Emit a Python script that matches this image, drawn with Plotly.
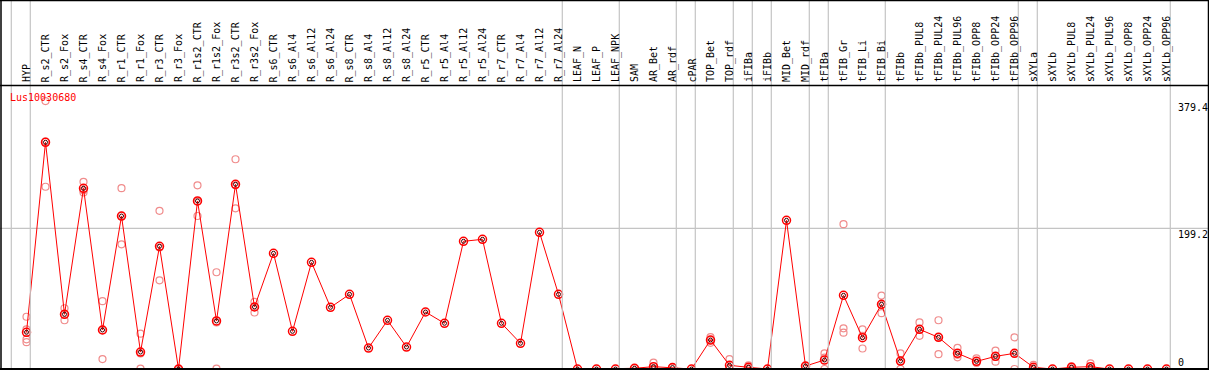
import plotly.graph_objects as go

gene_name = "Lus10030680"

categories = [
    "HYP", "R_s2_CTR", "R_s2_Fox", "R_s4_CTR", "R_s4_Fox", "R_r1_CTR", "R_r1_Fox",
    "R_r3_CTR", "R_r3_Fox", "R_r1s2_CTR", "R_r1s2_Fox", "R_r3s2_CTR", "R_r3s2_Fox",
    "R_s6_CTR", "R_s6_Al4", "R_s6_Al12", "R_s6_Al24", "R_s8_CTR", "R_s8_Al4",
    "R_s8_Al12", "R_s8_Al24", "R_r5_CTR", "R_r5_Al4", "R_r5_Al12", "R_r5_Al24",
    "R_r7_CTR", "R_r7_Al4", "R_r7_Al12", "R_r7_Al24", "LEAF_N", "LEAF_P", "LEAF_NPK",
    "SAM", "AR_Bet", "AR_rdf", "cPAR", "TOP_Bet", "TOP_rdf", "iFIBa", "iFIBb",
    "MID_Bet", "MID_rdf", "tFIBa", "tFIB_Gr", "tFIB_Li", "tFIB_Bi", "tFIBb",
    "tFIBb_PUL8", "tFIBb_PUL24", "tFIBb_PUL96", "tFIBb_OPP8", "tFIBb_OPP24",
    "tFIBb_OPP96", "sXYLa", "sXYLb", "sXYLb_PUL8", "sXYLb_PUL24", "sXYLb_PUL96",
    "sXYLb_OPP8", "sXYLb_OPP24", "sXYLb_OPP96",
]

mean_values = [
    52, 321, 77.4, 255.8, 55.2, 216.6, 24, 173.7, 0, 237.9, 68, 261.5, 87.8,
    163.8, 53.3, 151, 87.3, 105.7, 29.7, 68.9, 31.1, 80.7, 64.7, 180.8, 183.6,
    64.7, 36.4, 193.5, 105.7, 0, 0, 0, 1, 3.3, 2, 0, 41, 5.2, 2.4, 0,
    210.5, 4.2, 12.7, 104.3, 44.3, 91.6, 11.3, 56.2, 44.8, 22.2, 10.8, 17.9,
    22.2, 2.4, 0, 2.4, 3.3, 0, 0, 0, 0,
]

replicate_values = [
    [74, 56, 42, 38], [379.4, 258, 322], [86, 69, 77], [265, 250, 253],
    [96, 14, 55], [256, 176.5, 217], [50, 0.4, 22], [224, 125.5, 172],
    [0, 0, 0], [260, 216.6, 237], [137, 0.4, 66], [297, 227.5, 260],
    [95, 80, 88],
    [], [], [], [], [], [], [], [], [], [], [], [], [], [], [], [],
    [], [], [],
    [1], [9, 1, 0], [2], [], [45, 41, 37], [14, 1, 1], [5, 1, 1], [],
    [], [4], [22, 0, 16], [205, 57.6, 51.4], [56, 29, 47], [104, 79, 91],
    [22, 0, 11], [66, 47, 56], [69, 21, 45], [30, 16.5, 20], [15, 9, 9],
    [26, 10.4, 17], [44.8, 0, 22], [5.7, 1, 0.5], [], [3.8, 1], [8, 1, 1],
    [], [], [], [],
]

group_sizes = [1, 28, 3, 3, 1, 2, 1, 1, 2, 1, 3, 7, 1, 7]

y_label_values = [379.4, 199.2, 0]

W, H = 1209, 370
x_pos = list(range(1, len(categories) + 1))

rep_x, rep_y = [], []
for xi, reps in zip(x_pos, replicate_values):
    for r in reps:
        rep_x.append(xi)
        rep_y.append(r)

fig = go.Figure()
fig.add_trace(go.Scatter(
    x=rep_x, y=rep_y, mode="markers",
    marker=dict(symbol="circle-open", size=7, color="rgb(240,140,140)",
                line=dict(width=1.2, color="rgb(240,140,140)")),
    hoverinfo="skip", showlegend=False,
))
fig.add_trace(go.Scatter(
    x=x_pos, y=mean_values, mode="lines+markers",
    line=dict(color="red", width=1),
    marker=dict(symbol="circle-open", size=8, color="red",
                line=dict(width=1.5, color="red")),
    showlegend=False,
))
fig.add_trace(go.Scatter(
    x=x_pos, y=mean_values, mode="markers",
    marker=dict(symbol="circle-open", size=4, color="rgb(60,0,0)",
                line=dict(width=1, color="rgb(60,0,0)")),
    hoverinfo="skip", showlegend=False,
))

# axes mapping: px = 26.5 + 19*(x-1); y px = 369 - 0.7063*v
x_lo = 1 - 26.5 / 19
x_hi = 1 + (W - 26.5) / 19
k = 0.7063
y_lo = -(H - 369) / k
y_hi = 369 / k

shapes = []
bounds = [0]
acc = 0
for g in group_sizes:
    acc += g
    bounds.append(acc)
for b in bounds:
    shapes.append(dict(type="line", xref="x", yref="paper", x0=b + 0.2, x1=b + 0.2,
                       y0=1 - 369 / H, y1=1, line=dict(color="#c4c4c4", width=1.2)))
shapes.append(dict(type="line", xref="paper", yref="y", x0=0, x1=1,
                   y0=y_label_values[1], y1=y_label_values[1],
                   line=dict(color="#c4c4c4", width=1.2), layer="below"))
shapes.append(dict(type="line", xref="paper", yref="paper", x0=0, x1=1, y0=1 - 0.5 / H, y1=1 - 0.5 / H,
                   line=dict(color="black", width=1.5)))
shapes.append(dict(type="line", xref="paper", yref="paper", x0=0, x1=1, y0=1 - 85.5 / H, y1=1 - 85.5 / H,
                   line=dict(color="black", width=1.5)))
shapes.append(dict(type="line", xref="paper", yref="y", x0=0, x1=1, y0=0, y1=0,
                   line=dict(color="black", width=2)))
shapes.append(dict(type="line", xref="paper", yref="paper", x0=1 / W, x1=1 / W, y0=0, y1=1,
                   line=dict(color="black", width=1.5)))
shapes.append(dict(type="line", xref="paper", yref="paper", x0=1208.5 / W, x1=1208.5 / W, y0=0, y1=1,
                   line=dict(color="black", width=1.5)))

annotations = []
mono = "DejaVu Sans Mono"
for xi, name in zip(x_pos, categories):
    annotations.append(dict(
        x=xi, y=1 - 83.5 / H, xref="x", yref="paper", text=name, showarrow=False,
        textangle=-90, xanchor="center", yanchor="bottom", borderpad=0,
        font=dict(family=mono, size=10, color="black"),
    ))
annotations.append(dict(
    x=9 / W, y=1 - 97 / H, xref="paper", yref="paper", text=gene_name, showarrow=False,
    xanchor="left", yanchor="middle", borderpad=0,
    font=dict(family=mono, size=10, color="red"),
))
for v in y_label_values:
    annotations.append(dict(
        x=1177 / W, y=v, xref="paper", yref="y", text=("%g" % v), showarrow=False,
        xanchor="left", yanchor=("bottom" if v == 0 else "top"), borderpad=0,
        font=dict(family=mono, size=10, color="black"),
    ))

fig.update_layout(
    width=W, height=H,
    margin=dict(l=0, r=0, t=0, b=0),
    paper_bgcolor="white", plot_bgcolor="white",
    xaxis=dict(range=[x_lo, x_hi], visible=False, fixedrange=True),
    yaxis=dict(range=[y_lo, y_hi], visible=False, fixedrange=True),
    shapes=shapes, annotations=annotations,
    showlegend=False,
)

fig.write_html(
    "out.html",
    config={"displayModeBar": False},
    post_script="document.body.style.margin='0px';document.body.style.overflow='hidden';",
)
